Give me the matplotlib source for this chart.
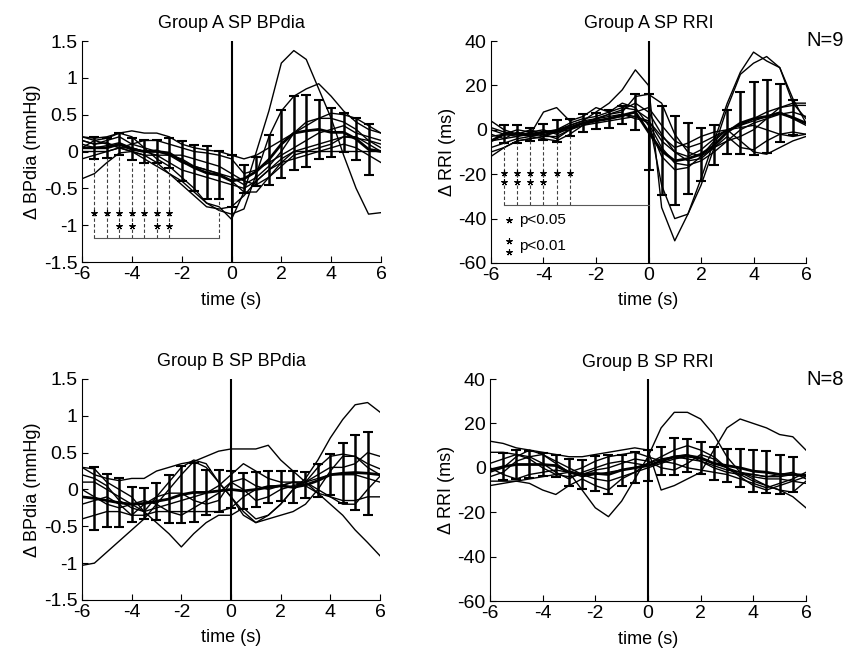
import matplotlib
matplotlib.use("Agg")
import matplotlib.pyplot as plt
import numpy as np

plt.rcParams['font.family'] = ['Liberation Sans', 'DejaVu Sans']
plt.rcParams['axes.unicode_minus'] = False

# time grid of the traces (s) and of the error bars
t = np.arange(-6, 6.01, 0.5)
t_err = np.arange(-5.5, 5.51, 0.5)

# ---------------- Group A, BPdia (mmHg) ----------------
a_bp_traces = [
    [0.15, 0.1, 0.12, 0.05, 0.0, -0.1, -0.2, -0.3, -0.4, -0.55, -0.7, -0.75, -0.92, -0.55, 0.0, 0.55, 1.2, 1.37, 1.25, 0.85, 0.45, -0.05, -0.5, -0.85, -0.83],
    [0.2, 0.15, 0.18, 0.25, 0.2, 0.05, -0.1, -0.2, -0.35, -0.5, -0.7, -0.8, -0.85, -0.78, -0.3, 0.2, 0.55, 0.75, 0.85, 0.92, 0.75, 0.55, 0.4, 0.3, 0.25],
    [-0.37, -0.3, -0.15, -0.02, 0.0, -0.05, -0.15, -0.3, -0.45, -0.6, -0.75, -0.78, -0.75, -0.6, -0.4, -0.25, -0.1, 0.0, 0.05, 0.1, 0.15, 0.2, 0.18, 0.15, 0.1],
    [0.2, 0.18, 0.2, 0.25, 0.28, 0.25, 0.25, 0.2, 0.1, 0.05, 0.02, 0.0, -0.05, -0.1, -0.05, 0.05, 0.15, 0.25, 0.35, 0.45, 0.52, 0.5, 0.45, 0.35, 0.25],
    [0.1, 0.05, 0.08, 0.12, 0.05, 0.0, 0.02, -0.05, -0.15, -0.2, -0.25, -0.3, -0.35, -0.45, -0.35, -0.2, 0.0, 0.25, 0.4, 0.45, 0.45, 0.4, 0.3, 0.15, 0.05],
    [0.0, 0.0, 0.0, 0.05, 0.0, -0.05, -0.05, -0.05, -0.05, -0.1, -0.15, -0.2, -0.3, -0.4, -0.45, -0.35, -0.2, -0.05, 0.0, 0.05, 0.1, 0.2, 0.2, 0.1, 0.0],
    [0.15, 0.1, 0.15, 0.2, 0.1, 0.05, 0.0, -0.05, -0.1, -0.2, -0.25, -0.3, -0.4, -0.55, -0.55, -0.35, -0.15, 0.0, 0.0, 0.0, 0.0, 0.0, 0.0, 0.0, 0.0],
    [0.05, 0.15, 0.1, 0.05, 0.1, 0.15, 0.15, 0.1, 0.05, 0.0, -0.02, -0.05, -0.1, -0.3, -0.25, -0.15, -0.05, 0.05, 0.15, 0.25, 0.3, 0.35, 0.25, 0.2, 0.15],
    [-0.1, -0.05, 0.0, 0.05, 0.05, 0.0, -0.05, -0.15, -0.25, -0.3, -0.35, -0.4, -0.45, -0.5, -0.4, -0.25, -0.15, -0.1, -0.05, 0.0, 0.05, 0.1, 0.05, -0.05, -0.15],
]
a_bp_mean = [0.05, 0.05, 0.05, 0.1, 0.03, 0.0, 0.0, -0.02, -0.13, -0.22, -0.29, -0.32, -0.4, -0.37, -0.27, -0.11, 0.1, 0.25, 0.28, 0.3, 0.26, 0.26, 0.17, 0.03, 0.0]
a_bp_err = [0.15, 0.14, 0.15, 0.15, 0.16, 0.16, 0.2, 0.27, 0.31, 0.36, 0.33, 0.35, 0.19, 0.2, 0.34, 0.46, 0.5, 0.49, 0.4, 0.33, 0.26, 0.28, 0.35]
a_bp_sig1 = [-5.5, -5, -4.5, -4, -3.5, -3, -2.5]   # p<0.05
a_bp_sig2 = [-4.5, -4, -3, -2.5]                    # p<0.01
a_bp_dash = [-5.5, -5, -4.5, -4, -3.5, -3, -2.5, -0.5]

# ---------------- Group A, RRI (ms) ----------------
a_rri_traces = [
    [-2, -4, -1, -3, -2, -1, 2, 4, 8, 12, 18, 27, 20, -35, -50, -38, -22, -5, 12, 26, 35, 31, 28, 14, 3],
    [-10, -8, -5, -4, -3, 0, 3, 5, 6, 8, 10, 9, 5, -25, -40, -38, -25, -8, 10, 25, 30, 33, 28, 12, 5],
    [0, -2, -3, -2, 8, 10, 4, 6, 10, 8, 12, 10, 2, -12, -18, -17, -12, -5, 0, 2, 5, 8, 10, 11, 11],
    [4, 0, -2, 0, -2, -4, 0, 3, 5, 7, 8, 15, 16, 12, -2, -10, -12, -8, -5, -3, 0, 5, 10, 12, 12],
    [-8, -6, -4, -3, -4, -5, -2, 2, 4, 5, 7, 6, 3, -8, -15, -16, -14, -10, -5, 0, 3, 5, 7, 8, 6],
    [-5, -4, -3, -1, 0, -2, 1, 3, 4, 5, 6, 8, 10, 2, -5, -8, -6, -3, 0, -5, -10, -11, -8, -5, -3],
    [-12, -8, -5, -4, -3, -3, 0, 2, 3, 4, 5, 6, 4, -5, -10, -12, -9, -4, 0, 2, 4, 6, 8, 5, 2],
    [-3, -2, 0, -1, -3, -1, 0, 3, 5, 7, 9, 12, 8, -2, -10, -14, -13, -8, -3, -8, -9, -5, -2, -3, -2],
    [1, -1, -2, -3, -1, 0, 2, 4, 5, 6, 7, 5, 4, -3, -8, -6, -3, -1, 0, 1, 2, 0, -2, -1, -2],
]
a_rri_mean = [-5, -2, -2, -2, -1, -0.5, 1, 3, 4, 5, 6.5, 8, -1, -9.5, -14, -13, -11, -7, -1, 3, 5, 6, 7.5, 5.5, 3]
a_rri_err = [4, 4, 3, 3.5, 5, 4, 4, 3.5, 4, 4, 8, 17, 20, 20, 16, 12, 9, 10, 14, 16.5, 16.5, 13, 8]
a_rri_sig1 = [-5.5, -5, -4.5, -4, -3.5, -3]
a_rri_sig2 = [-5.5, -5, -4.5, -4]
a_rri_dash = [-5.5, -5, -4.5, -4, -3.5, -3]

# ---------------- Group B, BPdia (mmHg) ----------------
b_bp_traces = [
    [-1.03, -1.0, -0.85, -0.7, -0.55, -0.4, -0.2, 0.0, 0.2, 0.38, 0.3, 0.1, -0.1, -0.3, -0.45, -0.4, -0.35, -0.3, -0.2, 0.0, 0.25, 0.45, 0.45, 0.3, 0.2],
    [0.3, 0.28, 0.1, 0.0, -0.1, -0.3, -0.45, -0.6, -0.78, -0.6, -0.45, -0.35, -0.35, -0.25, -0.4, -0.35, -0.2, 0.0, 0.15, 0.4, 0.7, 0.95, 1.15, 1.18, 1.05],
    [0.3, 0.2, 0.15, 0.12, 0.15, 0.15, 0.25, 0.3, 0.35, 0.38, 0.45, 0.52, 0.55, 0.55, 0.55, 0.6, 0.4, 0.25, 0.1, -0.05, -0.2, -0.35, -0.55, -0.72, -0.9],
    [0.1, 0.1, 0.0, -0.1, -0.2, -0.3, -0.1, 0.1, 0.3, 0.4, 0.35, 0.1, -0.1, -0.35, -0.45, -0.35, -0.2, 0.0, 0.1, 0.3, 0.45, 0.48, 0.45, 0.35, 0.28],
    [0.2, 0.15, 0.05, -0.15, -0.25, -0.3, -0.25, -0.2, -0.15, -0.1, -0.05, 0.05, 0.2, 0.35, 0.25, 0.15, 0.1, 0.1, 0.1, 0.2, 0.3, 0.3, 0.35, 0.5, 0.45],
    [-0.4, -0.35, -0.3, -0.3, -0.35, -0.35, -0.3, -0.3, -0.3, -0.3, -0.3, -0.3, -0.25, -0.1, 0.0, 0.05, 0.05, 0.1, 0.05, -0.05, -0.1, -0.15, -0.15, -0.1, -0.1],
    [0.0, -0.1, -0.2, -0.25, -0.2, -0.15, -0.2, -0.3, -0.35, -0.25, -0.15, -0.05, 0.1, 0.0, -0.15, -0.1, 0.0, 0.05, 0.1, 0.15, 0.2, 0.2, 0.2, 0.15, 0.1],
    [-0.2, -0.15, -0.1, -0.2, -0.35, -0.2, -0.1, -0.05, -0.05, -0.15, -0.2, -0.15, 0.1, 0.15, 0.05, 0.0, 0.05, 0.1, 0.1, 0.0, -0.1, -0.2, -0.2, 0.0, 0.18],
]
b_bp_mean = [-0.1, -0.12, -0.15, -0.18, -0.2, -0.19, -0.16, -0.13, -0.07, -0.04, -0.04, -0.02, 0.0, -0.02, 0.0, 0.03, 0.05, 0.03, 0.06, 0.12, 0.2, 0.22, 0.23, 0.22, 0.2]
b_bp_err = [0.43, 0.36, 0.33, 0.24, 0.21, 0.25, 0.33, 0.39, 0.4, 0.3, 0.28, 0.25, 0.24, 0.24, 0.22, 0.2, 0.22, 0.18, 0.22, 0.28, 0.41, 0.51, 0.56]

# ---------------- Group B, RRI (ms) ----------------
b_rri_traces = [
    [-2, 0, 5, 8, 6, 2, -2, -10, -18, -22, -15, -5, 5, 18, 25, 25, 22, 15, 5, -2, -5, -8, -10, -13, -18],
    [12, 11, 9, 8, 7, 6, 5, 5, 6, 7, 8, 9, 8, -10, -8, -5, -2, 8, 18, 22, 20, 18, 15, 14, 8],
    [7, 7, 6, 5, 6, 3, 0, -3, -5, -6, -4, -2, 0, 2, 4, 5, 4, 2, 0, -2, -4, -5, -5, -6, -7],
    [-8, -7, -6, -7, -10, -12, -8, -5, -8, -10, -5, -2, 2, 5, 8, 10, 8, 5, 0, -4, -8, -10, -8, -6, -4],
    [-4, -2, 3, 5, 2, -2, -5, -2, 0, 2, 3, 2, 1, 3, 2, 0, -1, -2, -3, -5, -7, -9, -7, -5, -2],
    [-6, -6, -6, -5, -4, -3, -2, 0, 3, 5, 6, 7, 5, 3, 5, 6, 3, 0, -2, -3, -3, -4, -4, -3, -3],
    [2, 4, 6, 4, 0, -3, -4, -3, -1, 0, 2, 4, 3, 0, -1, 2, 6, 4, 0, -3, -6, -8, -10, -11, -6],
    [0, -3, -5, -3, -2, -1, -2, -4, -3, -2, -1, 0, 2, 4, 5, 4, 3, 1, -1, -2, -3, -4, -3, -2, -5],
]
b_rri_mean = [-1, 0.5, 1.5, 1.5, 1.5, 1, -2, -3, -2.5, -3, -1, 0, 1, 3, 5, 5.5, 4.5, 2, 1, 0, -1.5, -2, -3, -3, -3.5]
b_rri_err = [6.2, 6.4, 6, 5, 5, 6, 6.5, 8, 9, 7, 7, 7, 6.3, 8.3, 7.5, 7.1, 7.5, 7.5, 8.6, 9.4, 9.4, 8.7, 7.9]

bp_ticks = [-1.5, -1, -0.5, 0, 0.5, 1, 1.5]
bp_labels = ['-1.5', '-1', '-0.5', '0', '0.5', '1', '1.5']
rri_ticks = [-60, -40, -20, 0, 20, 40]
x_ticks = [-6, -4, -2, 0, 2, 4, 6]

STAR = dict(ls='none', marker=(5, 2, 0), ms=4.5, mew=0.8, color='black')   # small asterisk

fig = plt.figure(figsize=(8.48, 6.56), dpi=100)


def panel(rect, title, traces, mean, err, ylim, yticks, ylabels, ylabel):
    ax = fig.add_axes(rect)
    for tr in traces:
        ax.plot(t, tr, color='black', lw=1.0)
    ax.plot(t, mean, color='black', lw=2.0)
    ax.errorbar(t_err, np.array(mean)[1:-1], yerr=err, fmt='none', ecolor='black',
                elinewidth=1.8, capsize=3.5, capthick=1.5)
    ax.axvline(0, color='black', lw=1.5)
    ax.set_xlim(-6, 6)
    ax.set_ylim(*ylim)
    ax.set_xticks(x_ticks)
    ax.set_xticklabels([str(v) for v in x_ticks])
    ax.set_yticks(yticks)
    ax.set_yticklabels(ylabels)
    ax.spines['top'].set_visible(False)
    ax.spines['right'].set_visible(False)
    ax.tick_params(direction='in', length=4, labelsize=14, pad=3)
    ax.set_title(title, fontsize=13, pad=9)
    ax.set_xlabel('time (s)', fontsize=13, labelpad=6)
    ax.set_ylabel(ylabel, fontsize=13, labelpad=2)
    return ax


# top left
ax1 = panel([0.0967, 0.6006, 0.3526, 0.3369], 'Group A SP BPdia', a_bp_traces, a_bp_mean, a_bp_err,
            (-1.5, 1.5), bp_ticks, bp_labels, 'Δ BPdia (mmHg)')
low = dict(zip(np.round(t_err, 1), np.array(a_bp_mean)[1:-1] - np.array(a_bp_err)))
for x in a_bp_dash:
    ax1.plot([x, x], [-1.18, low[x]], ls=(0, (3, 2)), color='0.25', lw=0.8)
ax1.plot([a_bp_dash[0], a_bp_dash[-1]], [-1.18, -1.18], color='0.35', lw=0.8)
ax1.plot(a_bp_sig1, [-0.84] * len(a_bp_sig1), **STAR)
ax1.plot(a_bp_sig2, [-1.01] * len(a_bp_sig2), **STAR)

# top right
ax2 = panel([0.579, 0.5991, 0.3715, 0.3384], 'Group A SP RRI', a_rri_traces, a_rri_mean, a_rri_err,
            (-60, 40), rri_ticks, [str(v) for v in rri_ticks], 'Δ RRI (ms)')
low = dict(zip(np.round(t_err, 1), np.array(a_rri_mean)[1:-1] - np.array(a_rri_err)))
for x in a_rri_dash:
    ax2.plot([x, x], [-34, low[x]], ls=(0, (3, 2)), color='0.25', lw=0.8)
ax2.plot([a_rri_dash[0], 0], [-34, -34], color='0.35', lw=0.8)
ax2.plot(a_rri_sig1, [-19.6] * len(a_rri_sig1), **STAR)
ax2.plot(a_rri_sig2, [-23.3] * len(a_rri_sig2), **STAR)
# legend for the stars
ax2.plot([-5.3], [-40.6], **STAR)
ax2.plot([-5.3, -5.3], [-50.2, -54.9], **STAR)
ax2.text(-4.95, -40.6, 'p<0.05', fontsize=11, va='center', ha='left')
ax2.text(-4.95, -52.4, 'p<0.01', fontsize=11, va='center', ha='left')
ax2.text(1.0, 1.0, 'N=9', transform=ax2.transAxes, fontsize=14.5, ha='left', va='center')

# bottom left
ax3 = panel([0.0967, 0.0854, 0.3514, 0.3369], 'Group B SP BPdia', b_bp_traces, b_bp_mean, b_bp_err,
            (-1.5, 1.5), bp_ticks, bp_labels, 'Δ BPdia (mmHg)')

# bottom right
ax4 = panel([0.5778, 0.0838, 0.3726, 0.3384], 'Group B SP RRI', b_rri_traces, b_rri_mean, b_rri_err,
            (-60, 40), rri_ticks, [str(v) for v in rri_ticks], 'Δ RRI (ms)')
ax4.text(1.0, 1.0, 'N=8', transform=ax4.transAxes, fontsize=14.5, ha='left', va='center')

fig.savefig('out.png', dpi=100)
